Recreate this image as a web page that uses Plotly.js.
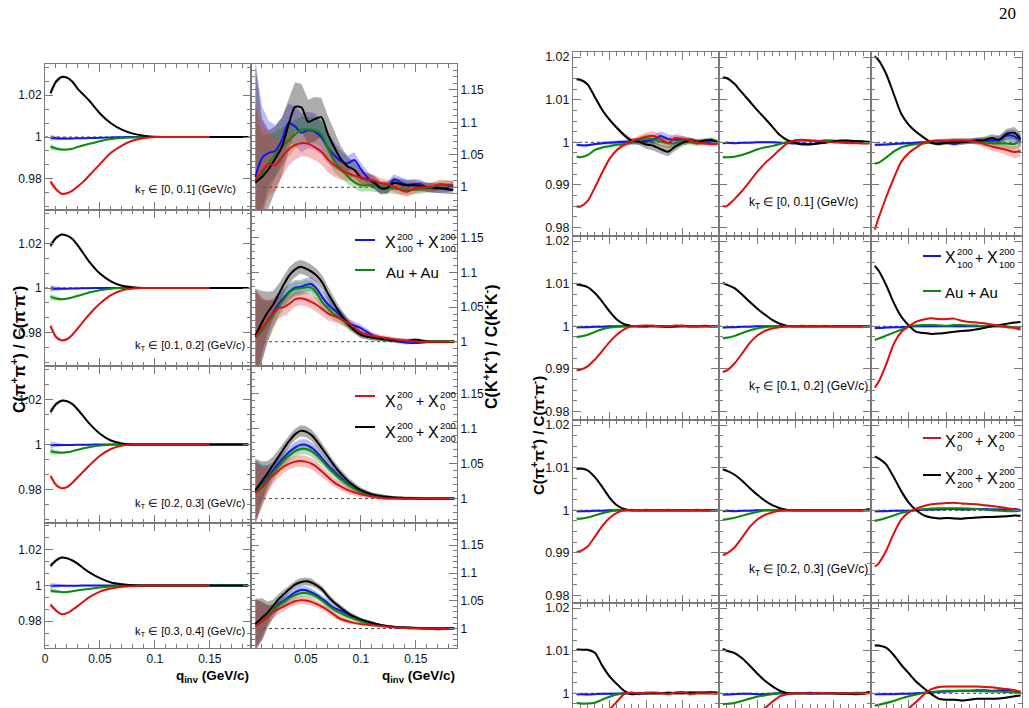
<!DOCTYPE html>
<html><head><meta charset="utf-8">
<script src="https://cdn.plot.ly/plotly-3.0.1.min.js"></script>
<style>html,body{margin:0;padding:0;background:#fff}#chart{width:1029px;height:708px}</style>
</head><body><div id="chart"></div>
<script>
// ================= DATA =================
// ---- left figure: pion ratio panels (4 kT bins) ----
const qPi = [0.005,0.01,0.015,0.02,0.025,0.03,0.035,0.04,0.05,0.06,0.07,0.08,0.09,0.1,0.125,0.15,0.185];
const piBlack1 = [1.021,1.0265,1.0288,1.0285,1.0265,1.023,1.0203,1.0176,1.0113,1.0066,1.0035,1.0016,1.0006,1.0001,1.0,1.0,1.0];
const piRed1   = [0.9786,0.975,0.9728,0.973,0.9743,0.9764,0.9786,0.9814,0.987,0.9924,0.9959,0.9983,0.9995,1.0,1.0,1.0,null];
const piGreen1 = [0.9953,0.9945,0.994,0.994,0.9944,0.9953,0.996,0.9967,0.998,0.999,0.9995,0.9998,1.0,1.0,1.0,1.0,1.0];
const piBlue1  = [0.9996,0.9994,0.9993,0.9993,0.9993,0.9994,0.9994,0.9995,0.9996,0.9998,0.9999,1.0,1.0,1.0,1.0,1.0,1.0];
const piBlack2 = [1.019,1.0225,1.024,1.0235,1.022,1.019,1.0155,1.012,1.0065,1.003,1.001,1.0003,1.0,1.0,1.0,1.0,1.0];
const piRed2   = [0.983,0.978,0.9765,0.977,0.979,0.982,0.985,0.988,0.993,0.9968,0.999,0.9998,1.0,1.0,1.0,1.0,null];
const piGreen2 = [0.996,0.9953,0.995,0.9952,0.9958,0.9965,0.9972,0.998,0.999,0.9997,1.0,1.0,1.0,1.0,1.0,1.0,1.0];
const piBlue2  = [0.9998,0.9997,0.9997,0.9997,0.9998,0.9998,0.9999,0.9999,1.0,1.0,1.0,1.0,1.0,1.0,1.0,1.0,1.0];
const piBlack3 = [1.0145,1.018,1.0195,1.0193,1.018,1.0155,1.0125,1.0095,1.0048,1.0018,1.0005,1.0,1.0,1.0,1.0,1.0,1.0];
const piRed3   = [0.986,0.982,0.9805,0.981,0.983,0.9855,0.988,0.9905,0.995,0.998,0.9995,1.0,1.0,1.0,1.0,1.0,null];
const piGreen3 = [0.997,0.9965,0.9963,0.9965,0.997,0.9977,0.9983,0.9988,0.9995,1.0,1.0,1.0,1.0,1.0,1.0,1.0,1.0];
const piBlue3  = [0.9998,0.9998,0.9998,0.9998,0.9998,0.9999,0.9999,0.9999,1.0,1.0,1.0,1.0,1.0,1.0,1.0,1.0,1.0];
const piBlack4 = [1.011,1.014,1.0157,1.0153,1.014,1.0121,1.0097,1.0075,1.0041,1.0017,1.0007,1.0002,1.0,1.0,1.0,1.0,1.0];
const piRed4   = [0.9892,0.986,0.9839,0.9845,0.9864,0.9886,0.991,0.9933,0.9966,0.9983,0.9993,0.9996,1.0,1.0,1.0,1.0,null];
const piGreen4 = [0.9972,0.9966,0.9963,0.9964,0.9968,0.9974,0.9978,0.9981,0.9989,0.9994,0.9996,1.0,1.0,1.0,1.0,1.0,1.0];
const piBlue4  = [0.9999,0.9999,0.9999,0.9999,0.9999,0.9999,1.0,1.0,1.0,1.0,1.0,1.0,1.0,1.0,1.0,1.0,1.0];
const ePi = [0.0015,0.001,0.0006,0.0004,0.0003,0.0003,0.0003,0.0003,0.0002,0.0002,0.0002,0.0002,0.0002,0.0002,0.0002,0.0002,0.0002];

// ---- left figure: kaon ratio panels ----
const qK1 = [0.004,0.01,0.016,0.022,0.028,0.034,0.04,0.046,0.052,0.058,0.064,0.07,0.076,0.082,0.088,0.094,0.1,0.106,0.112,0.118,0.124,0.13,0.136,0.142,0.148,0.154,0.16,0.166,0.172,0.178,0.184];
const kBlack1 = [1.008,1.016,1.028,1.044,1.062,1.095,1.124,1.123,1.101,1.105,1.108,1.082,1.061,1.043,1.032,1.027,1.015,1.012,1.008,0.999,0.999,1.007,1.005,1.003,1.003,1.002,1.0,0.9995,0.999,0.997,0.996];
const kBlue1  = [1.016,1.045,1.053,1.056,1.072,1.099,1.094,1.084,1.088,1.086,1.077,1.061,1.049,1.04,1.037,1.042,1.028,1.015,1.006,0.999,0.999,1.012,1.008,1.004,1.005,1.005,1.0,0.998,0.998,0.999,1.002];
const kGreen1 = [1.006,1.02,1.037,1.05,1.062,1.072,1.081,1.089,1.089,1.088,1.082,1.061,1.04,1.028,1.017,1.008,1.003,1.003,1.003,1.001,1.0,0.998,0.997,0.996,0.996,0.997,0.998,1.0,1.003,1.003,1.003];
const kRed1   = [1.011,1.025,1.036,1.034,1.046,1.058,1.065,1.068,1.067,1.062,1.055,1.043,1.034,1.027,1.022,1.018,1.015,1.012,1.01,1.006,1.004,1.001,0.996,0.993,0.997,1.0,1.0,1.001,1.005,1.004,1.003];
const ekBlack1 = [0.18,0.09,0.06,0.05,0.045,0.04,0.038,0.036,0.034,0.034,0.03,0.028,0.025,0.02,0.015,0.012,0.01,0.01,0.01,0.01,0.009,0.008,0.008,0.008,0.008,0.007,0.007,0.007,0.007,0.007,0.007];
const ekBlue1  = [0.18,0.08,0.05,0.04,0.035,0.03,0.03,0.03,0.028,0.028,0.026,0.024,0.02,0.016,0.012,0.012,0.01,0.01,0.009,0.009,0.009,0.008,0.008,0.008,0.008,0.007,0.007,0.007,0.007,0.007,0.007];
const ekGreen1 = [0.12,0.06,0.045,0.035,0.03,0.025,0.022,0.02,0.02,0.02,0.02,0.02,0.018,0.015,0.012,0.01,0.01,0.009,0.009,0.008,0.008,0.008,0.008,0.008,0.007,0.007,0.007,0.007,0.007,0.007,0.007];
const ekRed1   = [0.12,0.07,0.05,0.04,0.03,0.025,0.022,0.02,0.02,0.02,0.02,0.02,0.018,0.015,0.012,0.01,0.01,0.009,0.009,0.008,0.008,0.008,0.008,0.008,0.007,0.007,0.007,0.007,0.007,0.007,0.007];

const qK = [0.004,0.01,0.015,0.02,0.025,0.03,0.035,0.04,0.045,0.05,0.055,0.06,0.065,0.07,0.075,0.08,0.09,0.1,0.11,0.12,0.13,0.14,0.15,0.16,0.17,0.185];
const kBlack2 = [1.0086,1.028,1.042,1.053,1.068,1.083,1.096,1.104,1.108,1.1055,1.101,1.095,1.085,1.0695,1.0566,1.0436,1.023,1.01,1.006,1.0038,1.0024,1.001,1.003,1.0005,1.0,0.9995];
const kBlue2  = [1.0072,1.016,1.03,1.042,1.054,1.064,1.0725,1.078,1.079,1.082,1.083,1.076,1.064,1.054,1.047,1.04,1.026,1.0197,1.01,1.0038,1.0014,0.999,0.998,0.9995,0.9995,1.0005];
const kGreen2 = [1.006,1.016,1.028,1.0374,1.05,1.061,1.071,1.0758,1.077,1.0787,1.078,1.0695,1.0566,1.0484,1.04,1.036,1.0216,1.011,1.0062,1.0034,1.0024,1.0014,1.001,1.0005,1.0005,1.001];
const kRed2   = [1.0072,1.0197,1.03,1.0408,1.0484,1.05,1.055,1.061,1.0628,1.061,1.0576,1.053,1.047,1.0408,1.0374,1.034,1.0254,1.0134,1.0086,1.0062,1.0034,1.0014,1.0005,1.0,1.0,1.0];
const kBlack3 = [1.012,1.025,1.036,1.048,1.06,1.072,1.083,1.092,1.097,1.096,1.091,1.082,1.071,1.06,1.049,1.039,1.023,1.012,1.006,1.003,1.0015,1.001,1.0005,1.0,1.0,1.0];
const kBlue3  = [1.01,1.02,1.03,1.04,1.05,1.059,1.067,1.073,1.077,1.077,1.073,1.066,1.057,1.048,1.04,1.032,1.019,1.01,1.005,1.002,1.001,1.0,1.0,0.9995,1.0,1.0];
const kGreen3 = [1.009,1.018,1.028,1.037,1.046,1.055,1.062,1.068,1.071,1.071,1.068,1.062,1.054,1.045,1.037,1.03,1.018,1.009,1.004,1.002,1.001,1.0,1.0,1.0,1.0,1.0];
const kRed3   = [1.008,1.016,1.025,1.033,1.04,1.046,1.05,1.053,1.054,1.053,1.05,1.045,1.038,1.031,1.024,1.019,1.011,1.006,1.003,1.001,1.0,1.0,1.0,1.0,1.0,1.0];
const kBlack4 = [1.0085,1.0195,1.0287,1.04,1.053,1.062,1.071,1.079,1.0835,1.085,1.083,1.0775,1.07,1.058,1.048,1.04,1.0256,1.0165,1.0104,1.0055,1.003,1.0018,1.001,1.0006,1.0006,1.0006];
const kBlue4  = [1.0073,1.0134,1.0226,1.0317,1.0439,1.05,1.058,1.065,1.0695,1.069,1.065,1.06,1.053,1.0457,1.0378,1.0335,1.0238,1.0152,1.009,1.0055,1.003,1.0012,1.0006,1.0,0.9988,1.0006];
const kGreen4 = [1.0067,1.013,1.022,1.031,1.041,1.048,1.055,1.06,1.0635,1.064,1.062,1.057,1.05,1.042,1.035,1.029,1.02,1.013,1.008,1.005,1.003,1.0015,1.001,1.0005,1.0,1.0];
const kRed4   = [1.004,1.013,1.021,1.029,1.035,1.04,1.045,1.049,1.051,1.0505,1.048,1.044,1.039,1.033,1.026,1.019,1.012,1.008,1.006,1.004,1.002,1.001,1.0006,1.0,1.0,1.0];
const eK2 = [0.068,0.045,0.03,0.02,0.015,0.013,0.012,0.011,0.01,0.01,0.01,0.01,0.01,0.01,0.009,0.008,0.006,0.005,0.004,0.003,0.003,0.003,0.002,0.002,0.002,0.002];
const eK3 = [0.045,0.028,0.018,0.012,0.01,0.009,0.008,0.008,0.008,0.008,0.008,0.008,0.007,0.007,0.006,0.006,0.005,0.004,0.003,0.003,0.002,0.002,0.002,0.002,0.002,0.002];
const eK4 = [0.045,0.035,0.02,0.012,0.009,0.008,0.007,0.007,0.007,0.007,0.007,0.006,0.006,0.006,0.005,0.005,0.004,0.003,0.003,0.002,0.002,0.002,0.002,0.002,0.002,0.002];

// ---- right figure: 4 rows x 3 columns of pion ratios ----
const qR = [0.005,0.01,0.02,0.03,0.04,0.05,0.06,0.07,0.08,0.09,0.1,0.11,0.12,0.13,0.14,0.15,0.16,0.17,0.18,0.19,0.198];
const rBlack11 = [1.0148,1.0147,1.0136,1.0106,1.0076,1.0053,1.0034,1.0017,1.0004,1.0002,0.9995,0.9992,0.9984,0.9978,0.999,0.9999,1.0005,1.0002,1.0004,1.0005,1.0];
const rRed11   = [0.9849,0.9849,0.9862,0.9894,0.9929,0.9961,0.9982,0.9994,1.0002,1.0008,1.0013,1.0015,1.0008,0.9998,1.001,1.0008,1.0004,1.0,0.9998,0.9996,0.9996];
const rGreen11 = [0.9966,0.9965,0.997,0.9982,0.9988,0.9991,0.9994,0.9996,0.9999,1.0004,1.0009,1.0007,1.0002,0.9998,0.9998,1.0003,1.0001,0.9997,1.0001,1.0004,1.0];
const rBlue11  = [0.9994,0.9993,0.9993,0.9996,0.9998,0.9999,1.0,1.0001,1.0002,1.0002,1.0003,1.0006,1.0015,1.0008,1.0006,1.0007,1.0004,1.0,0.9999,1.0,0.9999];
const rBlack12 = [1.0152,1.0151,1.0138,1.0117,1.0097,1.0076,1.0057,1.0037,1.0017,1.0005,0.9999,0.9995,0.9995,0.9997,0.9999,1.0002,1.0004,1.0004,1.0003,1.0002,1.0001];
const rRed12   = [0.985,0.985,0.9866,0.9885,0.9907,0.993,0.995,0.9966,0.9983,0.9998,1.0005,1.0006,1.0005,1.0003,1.0002,1.0,0.9999,0.9998,0.9998,0.9997,0.9997];
const rGreen12 = [0.9965,0.9965,0.9966,0.997,0.9976,0.9983,0.9988,0.9991,0.9996,1.0001,1.0003,1.0004,1.0003,1.0003,1.0005,1.0004,1.0002,1.0003,1.0002,1.0001,1.0];
const rBlue12  = [0.9998,0.9999,0.9998,0.9999,0.9999,1.0,1.0,1.0,0.9999,0.9998,0.9997,0.9997,0.9996,0.9998,1.0002,1.0003,1.0003,1.0002,1.0002,1.0001,1.0];
const rBlack13 = [1.0202,1.0193,1.0161,1.0114,1.0067,1.0041,1.0024,1.0011,0.9999,0.9996,0.9999,1.0,1.0,1.0002,1.0004,1.0005,1.001,1.0006,1.002,1.0022,1.0008];
const rRed13   = [0.9795,0.9822,0.9871,0.9915,0.9954,0.9975,0.9988,0.9999,1.0003,1.0004,1.0004,1.0004,1.0004,1.0003,1.0001,0.9996,0.999,0.9986,0.9982,0.9977,0.998];
const rGreen13 = [0.995,0.9952,0.9964,0.9978,0.9988,0.9993,0.9996,0.9998,1.0,1.0002,1.0003,1.0005,1.0004,1.0003,1.0002,1.0,0.9998,0.9997,0.9997,0.9996,1.0004];
const rBlue13  = [0.9994,0.9994,0.9995,0.9996,0.9997,0.9998,0.9999,1.0,1.0,1.0,1.0,0.9996,1.0,1.0003,1.0004,1.0004,1.0004,1.0006,1.0016,1.0014,1.0004];
const rBlack21 = [1.0098,1.0097,1.0092,1.0078,1.0058,1.0035,1.0016,1.0005,1.0001,1.0,1.0,1.0001,1.0,0.9999,1.0,1.0001,1.0,1.0,1.0001,1.0,1.0];
const rRed21   = [0.9897,0.9898,0.9906,0.9922,0.9942,0.9963,0.998,0.9993,1.0,1.0001,1.0002,1.0001,1.0,1.0,1.0002,1.0001,1.0,1.0,1.0,1.0,1.0];
const rGreen21 = [0.9975,0.9976,0.998,0.9987,0.9993,0.9997,0.9999,1.0,1.0,1.0,1.0,1.0,1.0,1.0,1.0,1.0,1.0,1.0,1.0,1.0,1.0];
const rBlue21  = [0.9998,0.9998,0.9998,0.9999,0.9999,1.0,1.0,1.0,1.0,1.0,1.0,1.0,1.0,1.0,1.0,1.0,1.0,1.0,1.0,1.0,1.0];
const rBlack22 = [1.0102,1.0098,1.009,1.0075,1.0058,1.0042,1.0028,1.0015,1.0006,1.0001,1.0,1.0,1.0,1.0,1.0,1.0,1.0,1.0,1.0,1.0,1.0];
const rRed22   = [0.9893,0.9896,0.9912,0.9935,0.996,0.9978,0.9989,0.9995,0.9998,1.0,1.0,1.0001,1.0,1.0,1.0001,1.0,1.0,1.0,1.0,1.0,1.0];
const rGreen22 = [0.9972,0.9973,0.9977,0.9984,0.999,0.9995,0.9998,1.0,1.0,1.0,1.0,1.0,1.0,1.0,1.0,1.0,1.0,1.0,1.0,1.0,1.0];
const rBlue22  = [0.9997,0.9998,0.9998,0.9999,0.9999,1.0,1.0,1.0,1.0,1.0,1.0,1.0,1.0,1.0,1.0,1.0,1.0,1.0,1.0,1.0,1.0];
const rBlack23 = [1.0142,1.0131,1.0097,1.0056,1.0023,1.0002,0.9987,0.9984,0.9982,0.9983,0.9985,0.9987,0.9989,0.999,0.9993,0.9996,1.0,1.0003,1.0006,1.0009,1.001];
const rRed23   = [0.9856,0.9869,0.991,0.9958,0.9986,1.0,1.0011,1.0016,1.0019,1.0017,1.0017,1.0018,1.0013,1.001,1.0009,1.0007,1.0004,1.0002,0.9998,0.9996,0.9992];
const rGreen23 = [0.9968,0.9971,0.9978,0.9985,0.9992,0.9999,1.0002,1.0003,1.0003,1.0002,1.0001,1.0003,1.0003,1.0002,1.0002,1.0,1.0,1.0,0.9999,0.9998,0.9997];
const rBlue23  = [0.9996,0.9996,0.9997,0.9998,0.9998,0.9999,1.0,1.0,1.0,1.0,1.0,1.0,1.0,1.0,1.0,1.0,1.0,1.0,0.9999,0.9998,0.9997];
const rBlack31 = [1.0097,1.0098,1.0094,1.0078,1.0055,1.003,1.0012,1.0003,1.0,1.0,1.0,1.0,1.0,1.0,1.0,1.0,1.0,1.0,1.0,1.0,1.0];
const rRed31   = [0.9902,0.9904,0.9915,0.9938,0.9963,0.9982,0.9994,1.0,1.0001,1.0,1.0001,1.0,1.0,1.0001,1.0,1.0,1.0,1.0001,1.0,1.0,1.0];
const rGreen31 = [0.998,0.998,0.9983,0.9988,0.9993,0.9997,1.0,1.0,1.0,1.0,1.0,1.0,1.0,1.0,1.0,1.0,1.0,1.0,1.0,1.0,1.0];
const rBlue31  = [0.9998,0.9998,0.9998,0.9999,0.9999,1.0,1.0,1.0,1.0,1.0,1.0,1.0,1.0,1.0,1.0,1.0,1.0,1.0,1.0,1.0,1.0];
const rBlack32 = [1.0096,1.0093,1.0084,1.007,1.0053,1.0037,1.0023,1.0012,1.0005,1.0001,1.0,1.0,1.0,1.0,1.0,1.0,1.0,1.0,1.0,1.0,1.0003];
const rRed32   = [0.9895,0.9898,0.9912,0.9935,0.996,0.9978,0.9989,0.9995,0.9999,1.0,1.0,1.0,1.0,1.0,1.0,1.0,1.0,1.0,1.0,1.0,1.0];
const rGreen32 = [0.9978,0.9979,0.9982,0.9987,0.9992,0.9996,1.0,1.0,1.0,1.0,1.0,1.0,1.0,1.0,1.0,1.0,1.0,1.0,1.0,1.0,1.0];
const rBlue32  = [0.9998,0.9999,0.9998,0.9999,0.9999,1.0,1.0,1.0,1.0,1.0,1.0,1.0,1.0,1.0,1.0,1.0,1.0,1.0,1.0,1.0,1.0];
const rBlack33 = [1.0126,1.0122,1.0108,1.0078,1.0045,1.0018,1.0,0.9988,0.9983,0.9981,0.9982,0.9981,0.998,0.9982,0.9983,0.9984,0.9984,0.9985,0.9986,0.9988,0.9987];
const rRed33   = [0.9868,0.9875,0.9905,0.9945,0.9978,0.9995,1.0004,1.001,1.0014,1.0016,1.0017,1.0018,1.0016,1.0015,1.0014,1.0012,1.001,1.0008,1.0005,1.0002,1.0];
const rGreen33 = [0.9975,0.9977,0.9982,0.9988,0.9994,0.9998,1.0001,1.0003,1.0004,1.0005,1.0005,1.0005,1.0005,1.0004,1.0003,1.0002,1.0,0.9999,0.9998,0.9998,0.9999];
const rBlue33  = [0.9998,0.9998,0.9998,0.9999,0.9999,0.9999,1.0,1.0001,1.0002,1.0002,1.0003,1.0003,1.0002,1.0002,1.0003,1.0003,1.0002,1.0002,1.0002,1.0003,1.0001];
const rBlack41 = [1.0103,1.0102,1.0102,1.0095,1.0065,1.004,1.0022,1.0006,0.9998,1.0,1.0001,1.0,1.0,1.0001,1.0,1.0,1.0001,1.0001,1.0001,1.0001,1.0];
const rRed41   = [0.989,0.9892,0.9905,0.9925,0.9945,0.9962,0.998,0.9998,1.0002,1.0,1.0001,1.0002,1.0001,0.9998,1.0002,1.0003,0.9998,1.0,1.0,1.0,0.9999];
const rGreen41 = [0.9977,0.9976,0.9976,0.9978,0.9985,0.9992,0.9997,1.0,1.0,1.0,1.0,1.0,1.0,1.0,1.0,1.0,1.0,1.0,1.0,1.0,1.0];
const rBlue41  = [0.9998,0.9998,0.9997,0.9998,0.9999,0.9999,0.9999,1.0,0.9999,0.9998,0.9999,1.0,1.0,1.0001,1.0001,1.0002,1.0002,1.0002,1.0002,1.0003,1.0002];
const rBlack42 = [1.0104,1.01,1.0095,1.0083,1.0066,1.0047,1.003,1.0017,1.0006,1.0,1.0,1.0,1.0001,1.0,1.0,1.0,0.9999,0.9999,0.9998,0.9999,1.0004];
const rRed42   = [0.989,0.9892,0.9905,0.9922,0.994,0.9955,0.9965,0.998,0.9993,0.9998,1.0,1.0,1.0,1.0001,1.0,1.0,1.0,1.0,1.0,0.9999,1.0];
const rGreen42 = [0.9975,0.9975,0.9977,0.9982,0.9987,0.9992,0.9995,0.9998,1.0,1.0,1.0,1.0,1.0,1.0,1.0,1.0,1.0,1.0,1.0001,1.0001,1.0002];
const rBlue42  = [0.9997,0.9997,0.9998,0.9999,0.9999,0.9998,0.9998,0.9999,1.0,1.0,1.0,1.0,0.9999,1.0,1.0,1.0,1.0,1.0,0.9999,0.9999,1.0001];
const rBlack43 = [1.0112,1.0112,1.0107,1.009,1.0067,1.0047,1.0027,1.0012,0.9998,0.9987,0.9985,0.9985,0.9983,0.9985,0.9987,0.9987,0.9987,0.9988,0.999,0.9993,0.9995];
const rRed43   = [0.987,0.9875,0.9895,0.9925,0.9953,0.9965,0.998,0.9997,1.001,1.0015,1.0016,1.0016,1.0016,1.0016,1.0016,1.0015,1.0014,1.0012,1.001,1.0007,1.0004];
const rGreen43 = [0.9971,0.9973,0.9977,0.9982,0.9988,0.9993,0.9997,1.0001,1.0003,1.0005,1.0006,1.0006,1.0006,1.0006,1.0005,1.0005,1.0004,1.0004,1.0003,1.0002,1.0001];
const rBlue43  = [0.9998,0.9998,0.9998,0.9998,0.9999,0.9999,1.0,1.0001,1.0002,1.0003,1.0004,1.0005,1.0006,1.0006,1.0007,1.0007,1.0006,1.0007,1.0008,1.0006,1.0002];
const eR1 = [0.0003,0.0003,0.0003,0.0003,0.0003,0.0004,0.0004,0.0005,0.0006,0.0008,0.001,0.0011,0.0011,0.0011,0.001,0.0008,0.0007,0.0006,0.0006,0.0006,0.0006];
const eR3 = [0.0003,0.0003,0.0003,0.0003,0.0003,0.0003,0.0003,0.0003,0.0004,0.0004,0.0005,0.0005,0.0006,0.0006,0.0007,0.0008,0.0009,0.001,0.0012,0.0014,0.0014];
const eR  = [0.0003,0.0003,0.0002,0.0002,0.0002,0.0002,0.0002,0.0002,0.0002,0.0002,0.0002,0.0002,0.0002,0.0002,0.0002,0.0002,0.0002,0.0002,0.0002,0.0002,0.0002];

// labels
const kTLabels = ['[0, 0.1]','[0.1, 0.2]','[0.2, 0.3]','[0.3, 0.4]'];
const seriesNames = {blue:'X<sub>100</sub><sup>200</sup> + X<sub>100</sub><sup>200</sup>', green:'Au + Au', red:'X<sub>0</sub><sup>200</sup> + X<sub>0</sub><sup>200</sup>', black:'X<sub>200</sub><sup>200</sup> + X<sub>200</sub><sup>200</sup>'};

// ================= STYLE / GEOMETRY =================
const W = 1029, H = 708;
const FONT = 'Liberation Sans, Arial, Helvetica, sans-serif';
const COLORS = {blue:'#1414ee', green:'#0b8a0b', black:'#000000', red:'#dd1111'};
const BANDS = {blue:'rgba(60,60,240,0.34)', green:'rgba(40,160,40,0.34)', black:'rgba(0,0,0,0.32)', red:'rgba(235,60,60,0.34)'};
const ORDER = ['blue','green','black','red'];
const colsL = [[45,251],[251,457]];
const rowsL = [[64,210],[210,366],[366,523],[523,648]];
const colsR = [[573,719],[719,871],[871,1022]];
const rowsR = [[52,236],[236,420],[420,603],[603,708]];

const piSets = [
  {blue:piBlue1,green:piGreen1,black:piBlack1,red:piRed1},
  {blue:piBlue2,green:piGreen2,black:piBlack2,red:piRed2},
  {blue:piBlue3,green:piGreen3,black:piBlack3,red:piRed3},
  {blue:piBlue4,green:piGreen4,black:piBlack4,red:piRed4}];
const kSets = [
  {blue:kBlue1,green:kGreen1,black:kBlack1,red:kRed1},
  {blue:kBlue2,green:kGreen2,black:kBlack2,red:kRed2},
  {blue:kBlue3,green:kGreen3,black:kBlack3,red:kRed3},
  {blue:kBlue4,green:kGreen4,black:kBlack4,red:kRed4}];
const kErr = [
  {blue:ekBlue1,green:ekGreen1,black:ekBlack1,red:ekRed1},
  {blue:eK2,green:eK2,black:eK2,red:eK2},
  {blue:eK3,green:eK3,black:eK3,red:eK3},
  {blue:eK4,green:eK4,black:eK4,red:eK4}];
const rSets = [
  [{blue:rBlue11,green:rGreen11,black:rBlack11,red:rRed11},{blue:rBlue12,green:rGreen12,black:rBlack12,red:rRed12},{blue:rBlue13,green:rGreen13,black:rBlack13,red:rRed13}],
  [{blue:rBlue21,green:rGreen21,black:rBlack21,red:rRed21},{blue:rBlue22,green:rGreen22,black:rBlack22,red:rRed22},{blue:rBlue23,green:rGreen23,black:rBlack23,red:rRed23}],
  [{blue:rBlue31,green:rGreen31,black:rBlack31,red:rRed31},{blue:rBlue32,green:rGreen32,black:rBlack32,red:rRed32},{blue:rBlue33,green:rGreen33,black:rBlack33,red:rRed33}],
  [{blue:rBlue41,green:rGreen41,black:rBlack41,red:rRed41},{blue:rBlue42,green:rGreen42,black:rBlack42,red:rRed42},{blue:rBlue43,green:rGreen43,black:rBlack43,red:rRed43}]];
const rErr = [[eR1,eR,eR3],[eR,eR,eR],[eR,eR,eR],[eR,eR,eR]];

const panels = [];
for (let r=0;r<4;r++){
  const e = {blue:ePi,green:ePi,black:ePi,red:ePi};
  panels.push({box:[colsL[0][0],colsL[0][1],rowsL[r][0],rowsL[r][1]], xr:[0,0.1875], yr:[0.965,1.035],
    q:qPi, s:piSets[r], e:e, kind:'pi', row:r, col:0});
  panels.push({box:[colsL[1][0],colsL[1][1],rowsL[r][0],rowsL[r][1]], xr:[0,0.1875], yr:[0.965,1.19],
    q:r===0?qK1:qK, s:kSets[r], e:kErr[r], kind:'k', row:r, col:1});
}
for (let r=0;r<4;r++) for (let c=0;c<3;c++){
  const top = rowsR[r][0], bot = rowsR[r][1];
  const y1 = 1.0212, ppu = 184/(1.0212-0.978);
  const y0 = y1 - (bot-top)/ppu;
  const ee = rErr[r][c];
  panels.push({box:[colsR[c][0],colsR[c][1],top,bot], xr:[0,0.2], yr:[y0,y1],
    q:qR, s:rSets[r][c], e:{blue:ee,green:ee,black:ee,red:ee}, kind:'R', row:r, col:c});
}

// ================= BUILD =================
const traces = [], shapes = [], annotations = [];
const layout = {width:W, height:H, margin:{l:0,r:0,t:0,b:0}, showlegend:false,
  paper_bgcolor:'#ffffff', plot_bgcolor:'rgba(0,0,0,0)', font:{family:FONT, color:'#111'}};

function axBase(){ return {showline:true, linecolor:'#7a7a7a', linewidth:1, mirror:'allticks', ticks:'inside',
  ticklen:8, tickwidth:1, tickcolor:'#7a7a7a', showgrid:false, zeroline:false, fixedrange:true,
  tickfont:{family:FONT, size:12, color:'#111'}}; }

panels.forEach((p,i)=>{
  const k = i+1;
  const xid = k===1?'x':'x'+k, yid = k===1?'y':'y'+k;
  const xa = Object.assign(axBase(), {domain:[p.box[0]/W, p.box[1]/W], range:p.xr, anchor:yid,
    tickmode:'linear', tick0:0, dtick:0.05,
    minor:{ticks:'inside', ticklen:4, tickcolor:'#7a7a7a', tickmode:'linear', tick0:0, dtick:0.01}});
  const ya = Object.assign(axBase(), {domain:[1-p.box[3]/H, 1-p.box[2]/H], range:p.yr, anchor:xid, tickmode:'linear', tick0:1});
  if (p.kind==='pi'){
    ya.dtick=0.02; ya.minor={ticks:'inside',ticklen:4,tickcolor:'#7a7a7a',tickmode:'linear',tick0:1,dtick:0.02/3};
    ya.showticklabels=true;
    xa.showticklabels = (p.row===3);
  } else if (p.kind==='k'){
    ya.dtick=0.05; ya.side='right'; ya.minor={ticks:'inside',ticklen:4,tickcolor:'#7a7a7a',tickmode:'linear',tick0:1,dtick:0.01};
    ya.showticklabels=true;
    if (p.row===3){ xa.tickmode='array'; xa.tickvals=[0.05,0.1,0.15]; xa.ticktext=['0.05','0.1','0.15']; xa.showticklabels=true; }
    else xa.showticklabels=false;
  } else {
    ya.dtick=0.01; ya.minor={ticks:'inside',ticklen:4,tickcolor:'#7a7a7a',tickmode:'linear',tick0:1,dtick:0.0025};
    ya.showticklabels=(p.col===0);
    xa.showticklabels=false;
    ya.tickfont = {family:FONT, size:12.5, color:'#111'};
  }
  layout[k===1?'xaxis':'xaxis'+k] = xa;
  layout[k===1?'yaxis':'yaxis'+k] = ya;

  shapes.push({type:'line', xref:xid+' domain', yref:yid, x0:0, x1:1, y0:1, y1:1,
    line:{color:'#444', width:1, dash:'dot'}, layer:'below'});

  ORDER.forEach(c=>{
    const y = p.s[c], e = p.e[c];
    const xs=[], up=[], lo=[];
    for (let j=0;j<p.q.length;j++){ if (y[j]==null) continue; xs.push(p.q[j]); up.push(y[j]+e[j]); lo.push(y[j]-e[j]); }
    traces.push({x:xs.concat(xs.slice().reverse()), y:up.concat(lo.slice().reverse()), xaxis:xid, yaxis:yid,
      type:'scatter', mode:'lines', fill:'toself', fillcolor:BANDS[c], line:{width:0}, hoverinfo:'skip'});
  });
  ORDER.forEach(c=>{
    traces.push({x:p.q, y:p.s[c], xaxis:xid, yaxis:yid, type:'scatter', mode:'lines', name:seriesNames[c],
      line:{color:COLORS[c], width:2, shape:'spline', smoothing:0.7}, connectgaps:false, hoverinfo:'skip'});
  });
});

function ann(text, x, y, size, opts){
  return Object.assign({text:text, x:x/W, y:1-y/H, xref:'paper', yref:'paper', showarrow:false,
    xanchor:'left', yanchor:'middle', font:{family:FONT, size:size, color:'#000'}}, opts||{});
}
function lineSample(x0,x1,y,color){
  shapes.push({type:'line', xref:'paper', yref:'paper', x0:x0/W, x1:x1/W, y0:1-y/H, y1:1-y/H, line:{color:color, width:2}});
}
// X^sup_sub + X^sup_sub
function xPair(xs, y, sup, sub, big, small){
  // xs = [X1, scripts1, plus, X2, scripts2]
  annotations.push(ann('X', xs[0], y, big));
  annotations.push(ann(sup, xs[1], y-6.5, small));
  annotations.push(ann(sub, xs[1], y+6, small));
  annotations.push(ann('+', xs[2], y, big-2));
  annotations.push(ann('X', xs[3], y, big));
  annotations.push(ann(sup, xs[4], y-6.5, small));
  annotations.push(ann(sub, xs[4], y+6, small));
}

// left figure legends
lineSample(355,375,240,COLORS.blue);
xPair([383,395,414,426,438], 243, '200', '100', 16, 9.5);
lineSample(355,375,270,COLORS.green);
annotations.push(ann('Au + Au', 384, 272, 15));
lineSample(355,375,396,COLORS.red);
xPair([383,395,414,426,438], 401, '200', '0', 16, 9.5);
lineSample(355,375,427,COLORS.black);
xPair([383,395,414,426,438], 432, '200', '200', 16, 9.5);

// right figure legends
lineSample(923,941,256,COLORS.blue);
xPair([943,955,973,985,997], 258, '200', '100', 16, 9.5);
lineSample(923,941,291,COLORS.green);
annotations.push(ann('Au + Au', 943, 293, 15));
lineSample(923,941,438,COLORS.red);
xPair([943,955,973,985,997], 441, '200', '0', 16, 9.5);
lineSample(923,941,475,COLORS.black);
xPair([943,955,973,985,997], 478, '200', '200', 16, 9.5);

// kT labels
const kTyL = [190,346,504,632];
kTLabels.forEach((t,i)=>annotations.push(ann('k<sub>T</sub> ∈ '+t+' (GeV/c)', 133, kTyL[i], 11)));
const kTyR = [203,387,570];
[0,1,2].forEach(i=>annotations.push(ann('k<sub>T</sub> ∈ '+kTLabels[i]+' (GeV/c)', 747, kTyR[i], 12)));

// axis titles
annotations.push(ann('<b>q<sub>inv</sub> (GeV/c)</b>', 251, 676, 13.5, {xanchor:'right'}));
annotations.push(ann('<b>q<sub>inv</sub> (GeV/c)</b>', 457, 676, 13.5, {xanchor:'right'}));
annotations.push(ann('<b>C(π<sup>+</sup>π<sup>+</sup>) / C(π<sup>-</sup>π<sup>-</sup>)</b>', 18, 350, 16, {xanchor:'center', textangle:-90}));
annotations.push(ann('<b>C(K<sup>+</sup>K<sup>+</sup>) / C(K<sup>-</sup>K<sup>-</sup>)</b>', 490, 347, 16, {xanchor:'center', textangle:-90}));
annotations.push(ann('<b>C(π<sup>+</sup>π<sup>+</sup>) / C(π<sup>-</sup>π<sup>-</sup>)</b>', 537, 436, 15, {xanchor:'center', textangle:-90}));
// page number
annotations.push(ann('20', 1018, 13, 17, {xanchor:'right', font:{family:'Liberation Serif, Times New Roman, serif', size:17, color:'#000'}}));

layout.shapes = shapes;
layout.annotations = annotations;
Plotly.newPlot('chart', traces, layout, {displayModeBar:false, staticPlot:true});
</script></body></html>
